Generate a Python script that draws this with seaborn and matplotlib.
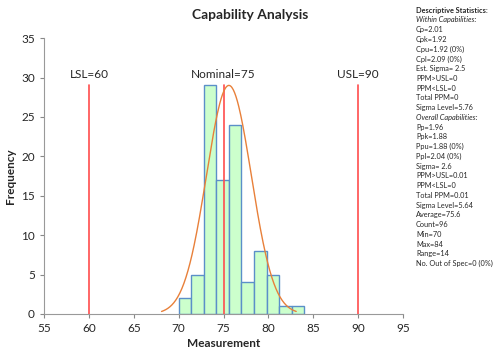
import numpy as np
import matplotlib
matplotlib.use("Agg")
import matplotlib.pyplot as plt
import seaborn as sns

# Histogram data
bin_edges = [70, 71.4, 72.8, 74.2, 75.6, 77, 78.4, 79.8, 81.2, 82.6, 84]
counts = [2, 5, 29, 17, 24, 4, 8, 5, 1, 1]

# Spec limits
lsl = 60
nominal = 75
usl = 90

# Stats used for the fitted curve
mean = 75.6
sigma_within = 2.5

stats_lines = [
    ("Descriptive Statistics:", "bold"),
    ("Within Capabilities:", "italic"),
    ("Cp=2.01", ""), ("Cpk=1.92", ""), ("Cpu=1.92 (0%)", ""), ("Cpl=2.09 (0%)", ""),
    ("Est. Sigma= 2.5", ""), ("PPM>USL=0", ""), ("PPM<LSL=0", ""), ("Total PPM=0", ""),
    ("Sigma Level=5.76", ""),
    ("Overall Capabilities:", "italic"),
    ("Pp=1.96", ""), ("Ppk=1.88", ""), ("Ppu=1.88 (0%)", ""), ("Ppl=2.04 (0%)", ""),
    ("Sigma= 2.6", ""), ("PPM>USL=0.01", ""), ("PPM<LSL=0", ""), ("Total PPM=0.01", ""),
    ("Sigma Level=5.64", ""), ("Average=75.6", ""), ("Count=96", ""), ("Min=70", ""),
    ("Max=84", ""), ("Range=14", ""), ("No. Out of Spec=0 (0%)", ""),
]

sns.set_style("white")
plt.rcParams["font.family"] = ["Lato", "DejaVu Sans"]

fig = plt.figure(figsize=(5, 3.63), dpi=100)
ax = fig.add_axes([0.088, 0.135, 0.718, 0.76])

centers = [(a + b) / 2 for a, b in zip(bin_edges[:-1], bin_edges[1:])]
sns.histplot(x=centers, weights=counts, bins=bin_edges, ax=ax,
             color="#ccffcc", edgecolor="#5b8fc9", linewidth=1.0, alpha=1)

# Spec lines
peak = max(counts)
for v, lab in [(lsl, "LSL=60"), (nominal, "Nominal=75"), (usl, "USL=90")]:
    ax.plot([v, v], [0, peak], color="#ff4d4d", lw=1.2, zorder=3)
    ax.text(v, peak + 1.4, lab, ha="center", va="center", fontsize=8.5)

# Normal fit curve, scaled to the tallest bar
xs = np.linspace(mean - 3 * sigma_within, mean + 3 * sigma_within, 200)
ys = peak * np.exp(-0.5 * ((xs - mean) / sigma_within) ** 2)
sns.lineplot(x=xs, y=ys, ax=ax, color="#e8803a", lw=1.0, zorder=4)

ax.set_xlim(55, 95)
ax.set_ylim(0, 35)
ax.set_xticks(range(55, 96, 5))
ax.set_yticks(range(0, 36, 5))
ax.tick_params(axis="both", labelsize=8.5, length=3, color="#888888", direction="out",
               bottom=True, left=True)
for s in ["top", "right"]:
    ax.spines[s].set_visible(False)
for s in ["left", "bottom"]:
    ax.spines[s].set_color("#999999")
    ax.spines[s].set_linewidth(0.8)
ax.set_xlabel("Measurement", fontsize=8.5, fontweight="bold", labelpad=3)
ax.set_ylabel("Frequency", fontsize=8.5, fontweight="bold", labelpad=4)

fig.text(0.5, 0.958, "Capability Analysis", ha="center", va="center",
         fontsize=10, fontweight="bold")

y0 = 0.972
step = 9.75 / 363
for i, (txt, style) in enumerate(stats_lines):
    kw = {}
    if style == "bold":
        kw["fontweight"] = "bold"
    elif style == "italic":
        kw["fontstyle"] = "italic"
    fig.text(0.832, y0 - i * step, txt, ha="left", va="center", fontsize=5.3, **kw)

fig.savefig("out.png", dpi=100)
